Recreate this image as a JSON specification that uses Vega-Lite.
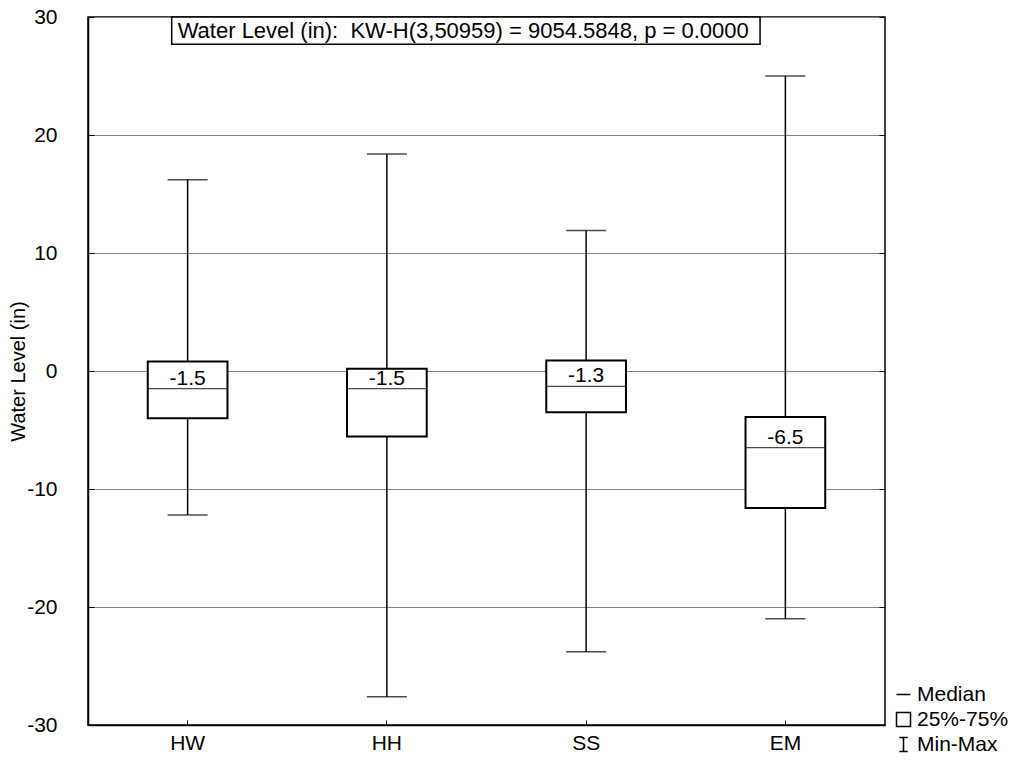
{
  "$schema": "https://vega.github.io/schema/vega-lite/v6.json",
  "width": 797,
  "height": 708,
  "autosize": {"type": "none"},
  "padding": {"left": 88, "top": 17, "right": 130, "bottom": 36},
  "background": "white",
  "config": {
    "font": "Liberation Sans",
    "locale": {"number": {"decimal": ".", "thousands": ",", "grouping": [3], "currency": ["$", ""], "minus": "-"}},
    "view": {"stroke": "black", "strokeWidth": 1.5},
    "axis": {"labelColor": "black", "titleColor": "black", "tickColor": "black", "domainColor": "black", "domainWidth": 1.5, "labelFont": "Liberation Sans", "titleFont": "Liberation Sans"}
  },
  "resolve": {"axis": {"y": "independent"}},
  "datasets": {
    "boxes": [
      {"group": "HW", "min": -12.2, "q1": -4.0, "median": -1.5, "q3": 0.8, "max": 16.2},
      {"group": "HH", "min": -27.6, "q1": -5.55, "median": -1.5, "q3": 0.2, "max": 18.4},
      {"group": "SS", "min": -23.8, "q1": -3.5, "median": -1.3, "q3": 0.9, "max": 11.9},
      {"group": "EM", "min": -21.0, "q1": -11.6, "median": -6.5, "q3": -3.9, "max": 25.0}
    ],
    "legend": [
      {"item": "Median"},
      {"item": "25%-75%"},
      {"item": "Min-Max"}
    ],
    "note": [
      {"text": "Water Level (in): \u00a0KW-H(3,50959) = 9054.5848, p = 0.0000"}
    ]
  },
  "layer": [
    {
      "data": {"name": "boxes"},
      "mark": {"type": "rule", "color": "black", "strokeWidth": 1.5},
      "encoding": {
        "x": {
          "field": "group", "type": "nominal", "sort": ["HW", "HH", "SS", "EM"],
          "scale": {"paddingInner": 0, "paddingOuter": 0},
          "axis": {"title": null, "labelAngle": 0, "labelFontSize": 21, "tickSize": -5, "labelPadding": 12}
        },
        "y": {
          "field": "min", "type": "quantitative",
          "scale": {"domain": [-30, 30], "nice": false, "zero": false},
          "axis": {
            "values": [-30, -20, -10, 0, 10, 20, 30], "title": "Water Level (in)",
            "titleFontSize": 20, "titleFontWeight": "normal", "titleX": -70, "titleBaseline": "middle",
            "labelFontSize": 21, "tickSize": -6, "labelPadding": 37,
            "grid": true, "gridColor": "#808080", "gridWidth": 1
          }
        },
        "y2": {"field": "max"}
      }
    },
    {
      "data": {"name": "boxes"},
      "mark": {"type": "tick", "color": "black", "size": 40, "thickness": 1.5},
      "encoding": {
        "x": {"field": "group", "type": "nominal", "sort": ["HW", "HH", "SS", "EM"]},
        "y": {
          "field": "min", "type": "quantitative",
          "axis": {"orient": "right", "values": [-30, -20, -10, 0, 10, 20, 30], "labels": false, "title": null, "tickSize": -6, "grid": false, "domain": false}
        }
      }
    },
    {
      "data": {"name": "boxes"},
      "mark": {"type": "tick", "color": "black", "size": 40, "thickness": 1.5},
      "encoding": {
        "x": {"field": "group", "type": "nominal", "sort": ["HW", "HH", "SS", "EM"]},
        "y": {"field": "max", "type": "quantitative", "axis": null}
      }
    },
    {
      "data": {"name": "boxes"},
      "mark": {"type": "bar", "fill": "white", "stroke": "black", "strokeWidth": 2, "width": {"band": 0.4}},
      "encoding": {
        "x": {"field": "group", "type": "nominal", "sort": ["HW", "HH", "SS", "EM"]},
        "y": {"field": "q1", "type": "quantitative", "axis": null},
        "y2": {"field": "q3"}
      }
    },
    {
      "data": {"name": "boxes"},
      "mark": {"type": "tick", "color": "black", "size": 79, "thickness": 1.2},
      "encoding": {
        "x": {"field": "group", "type": "nominal", "sort": ["HW", "HH", "SS", "EM"]},
        "y": {"field": "median", "type": "quantitative", "axis": null}
      }
    },
    {
      "data": {"name": "boxes"},
      "mark": {"type": "text", "color": "black", "fontSize": 21, "baseline": "alphabetic", "dy": -4},
      "encoding": {
        "x": {"field": "group", "type": "nominal", "sort": ["HW", "HH", "SS", "EM"]},
        "y": {"field": "median", "type": "quantitative", "axis": null},
        "text": {"field": "median", "type": "quantitative", "format": ".1f"}
      }
    },
    {
      "data": {"name": "note"},
      "mark": {"type": "rect", "fill": "white", "stroke": "black", "strokeWidth": 1.5},
      "encoding": {
        "x": {"datum": "HW", "type": "nominal", "bandPosition": 0.42},
        "x2": {"datum": "EM", "bandPosition": 0.373},
        "y": {"datum": 30, "type": "quantitative", "axis": null},
        "y2": {"datum": 27.7}
      }
    },
    {
      "data": {"name": "note"},
      "mark": {"type": "text", "color": "black", "fontSize": 22, "align": "left", "baseline": "middle"},
      "encoding": {
        "x": {"datum": "HW", "type": "nominal", "bandPosition": 0.45},
        "y": {"datum": 28.85, "type": "quantitative", "axis": null},
        "text": {"field": "text"}
      }
    },
    {
      "data": {"name": "legend"},
      "mark": {"type": "point", "color": "black"},
      "encoding": {
        "opacity": {"value": 0},
        "shape": {
          "field": "item", "type": "nominal",
          "scale": {
            "domain": ["Median", "25%-75%", "Min-Max"],
            "range": ["M-1,0H1", "square", "M-0.6,-1H0.6M0,-1V1M-0.6,1H0.6"]
          },
          "legend": {
            "orient": "none", "legendX": 805, "legendY": 667, "title": null,
            "padding": 0, "labelFontSize": 21, "labelColor": "black", "labelOffset": 3,
            "symbolSize": 196, "rowPadding": 3,
            "encode": {"symbols": {"update": {"opacity": {"value": 1}, "stroke": {"value": "black"}, "fill": {"value": "white"}, "strokeWidth": {"value": 1.3}}}}
          }
        }
      }
    }
  ]
}
